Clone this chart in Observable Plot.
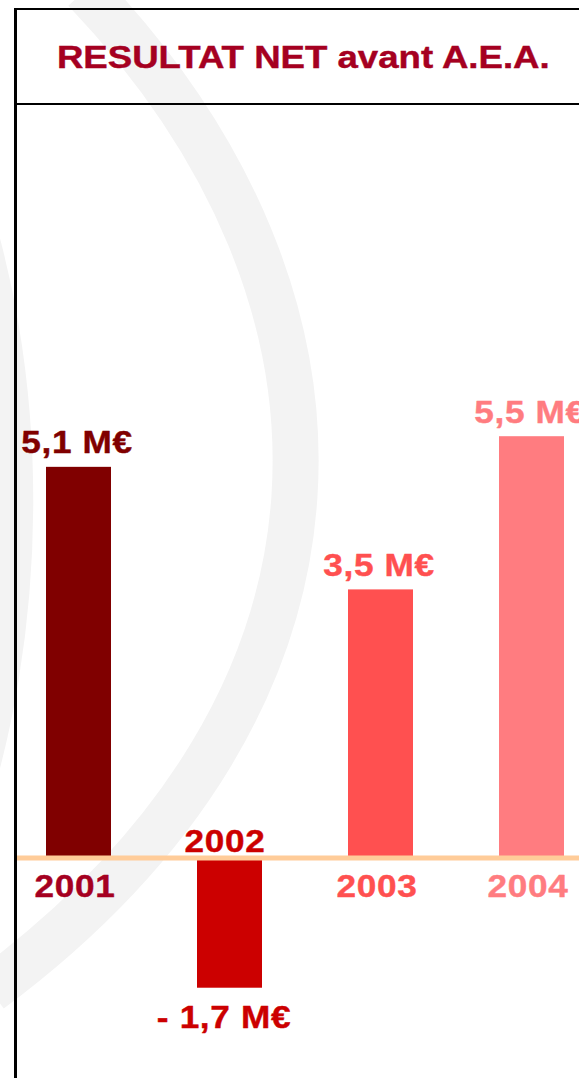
<!DOCTYPE html>
<html>
<head>
<meta charset="utf-8">
<script src="https://cdn.jsdelivr.net/npm/d3@7"></script>
<script src="https://cdn.jsdelivr.net/npm/@observablehq/plot@0.6"></script>
<style>
  html, body { margin: 0; padding: 0; background: #fff; }
  body { width: 579px; height: 1078px; overflow: hidden; position: relative;
         font-family: "Liberation Sans", Arial, sans-serif; }
  #bg { position: absolute; left: 0; top: 0; z-index: 0; }
  #leftline { position: absolute; left: 14px; top: 8px; width: 2.5px; height: 1070px; background: #000; z-index: 2; }
  #title { position: relative; z-index: 1; margin: 8px 0 0 14px; width: 563px; height: 93px;
           border-top: 2px solid #000; border-bottom: 2px solid #000; border-left: 2px solid #000;
           box-sizing: content-box; display: flex; align-items: center; justify-content: center; }
  #title span { display: inline-block; font-weight: bold; font-size: 30.5px; color: #A50021;
                transform: scaleX(1.2); transform-origin: center; position: relative; left: 6px; top: 1px;
                white-space: nowrap; -webkit-text-stroke: 0.4px #A50021; }
  #chart { position: relative; z-index: 1; }
</style>
</head>
<body>
<svg id="bg" width="579" height="1078">
  <path d="M 85 -10 C 380 300, 380 700, -10 990" fill="none" stroke="#F3F3F3" stroke-width="46"/>
  <path d="M -45 170 C 30 370, 30 630, -45 840" fill="none" stroke="#F3F3F3" stroke-width="44"/>
</svg>
<div id="leftline"></div>
<div id="title"><span>RESULTAT NET avant A.E.A.</span></div>
<div id="chart"></div>
<script>
// ---- data ----
const years = ["2001", "2002", "2003", "2004"];
const values = [5.1, -1.7, 3.5, 5.5];
const valueLabels = ["5,1 M€", "- 1,7 M€", "3,5 M€", "5,5 M€"];
// ---- palettes ----
const barColors = ["#800000", "#CC0000", "#FF5050", "#FF7C80"];
const yearColors = ["#A50021", "#CC0000", "#FF5050", "#FF7C80"];

const data = years.map((year, i) => ({year, value: values[i], label: valueLabels[i], i}));
const pos = data.filter(d => d.value >= 0);
const neg = data.filter(d => d.value < 0);

// layout: baseline at page y 857.5, svg starts at page y 105
const unit = 76.6;
const base = 857.5 - 105;
const yDom = [-3, 8];

const textCommon = {fontSize: 32, fontWeight: "bold", fontFamily: "Liberation Sans, Arial, sans-serif",
  strokeWidth: 0.4};

const chart = Plot.plot({
  width: 579,
  height: 973,
  marginLeft: 17, marginRight: 0, marginTop: 0, marginBottom: 0,
  style: {background: "transparent", letterSpacing: "0.6px", overflow: "visible"},
  x: {type: "band", domain: years, range: [2.5, 606.5], paddingInner: 0.57, paddingOuter: 0.285, axis: null},
  y: {domain: yDom, range: [base - unit * yDom[0], base - unit * yDom[1]], axis: null},
  color: {type: "identity"},
  marks: [
    Plot.barY(data, {x: "year", y: "value", fill: d => barColors[d.i]}),
    Plot.ruleY([0], {stroke: "#FFCC99", strokeWidth: 5}),
    // value labels
    Plot.text(pos, {x: "year", y: "value", text: "label", fill: d => barColors[d.i],
      lineAnchor: "bottom", dy: -14, dx: -2, ...textCommon, stroke: d => barColors[d.i]}),
    Plot.text(neg, {x: "year", y: "value", text: "label", fill: d => barColors[d.i],
      lineAnchor: "top", dy: 17, dx: -6, ...textCommon, stroke: d => barColors[d.i]}),
    // year labels
    Plot.text(pos, {x: "year", y: 0, text: "year", fill: d => yearColors[d.i],
      lineAnchor: "top", dy: 16.5, dx: -4, ...textCommon, stroke: d => yearColors[d.i]}),
    Plot.text(neg, {x: "year", y: 0, text: "year", fill: d => yearColors[d.i],
      lineAnchor: "bottom", dy: -6, dx: -5, ...textCommon, stroke: d => yearColors[d.i]})
  ]
});
// widen glyphs horizontally like the reference
d3.select(chart).selectAll("text").each(function() {
  const t = this.getAttribute("transform");
  if (t && t.includes("translate")) this.setAttribute("transform", t + " scale(1.1,1)");
});
document.getElementById("chart").appendChild(chart);
</script>
</body>
</html>
